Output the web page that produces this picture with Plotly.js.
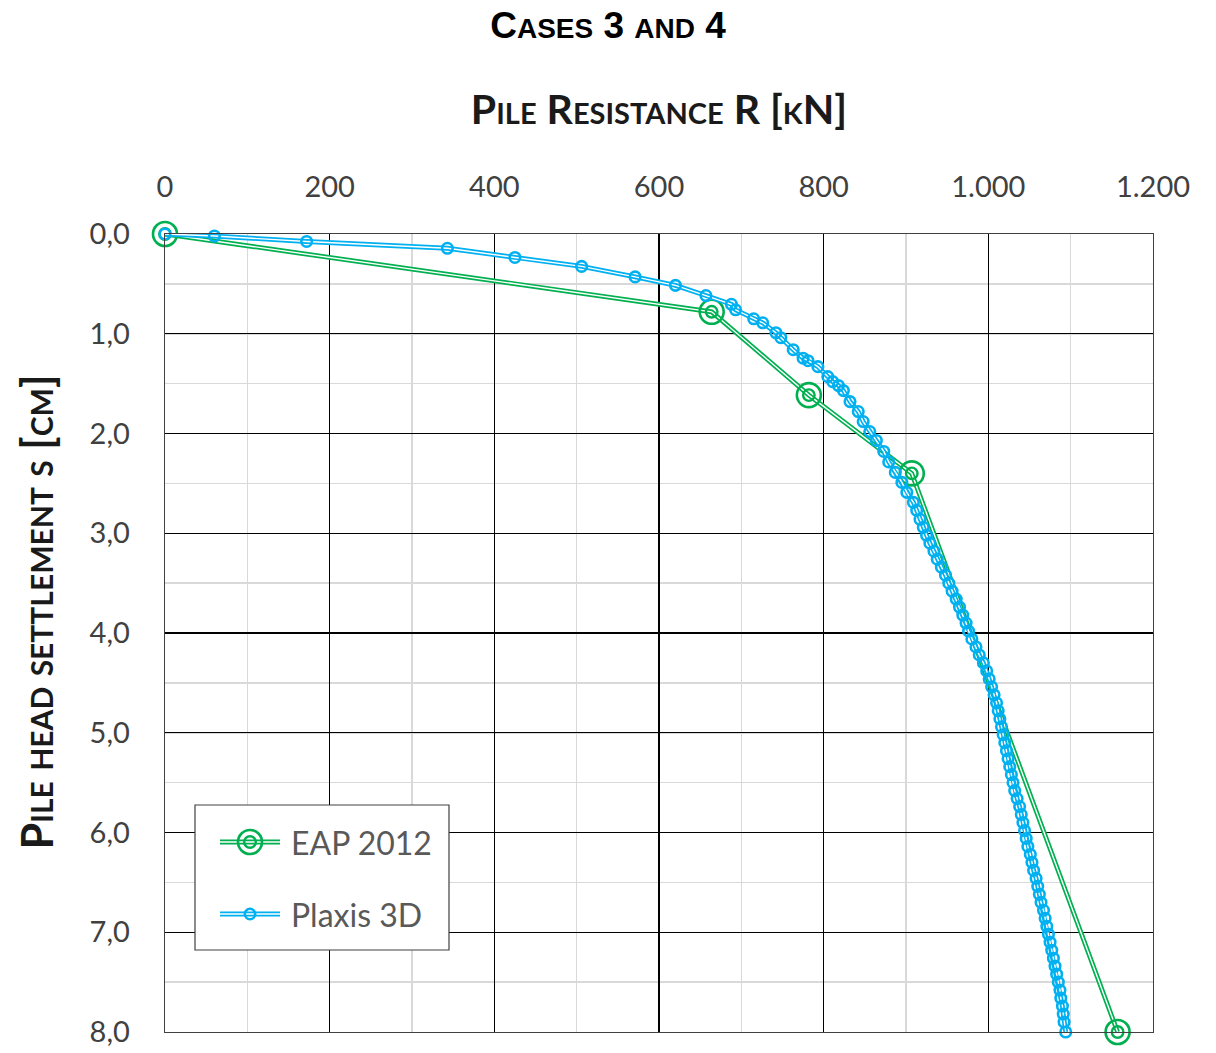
<!DOCTYPE html>
<html>
<head>
<meta charset="utf-8">
<script src="https://cdn.plot.ly/plotly-3.0.1.min.js"></script>
<style>
  html, body { margin: 0; padding: 0; background: #fff; }
  #chart { width: 1216px; height: 1053px; }
</style>
</head>
<body>
<div id="chart"></div>
<script>
// ---- Data ----
const eapResistance = [0, 664, 782, 907, 1157];
const eapSettlement = [0.0, 0.78, 1.615, 2.40, 8.0];

const plaxisResistance = [
  0, 60, 172, 343, 425, 506, 571, 620, 657, 688, 693, 715, 726, 742, 748, 763, 775, 781, 793,
  805, 811, 818, 824, 832, 842, 848, 856, 864, 873, 879, 887, 895, 901, 909, 913, 917, 921,
  925, 929, 934, 938, 943, 948, 952, 956, 961, 965, 969, 973, 976, 980, 985, 989, 994, 998,
  1001, 1004, 1007, 1010, 1012, 1014, 1016, 1018, 1020, 1022, 1024, 1026, 1028, 1030, 1032,
  1035, 1038, 1040, 1042, 1044, 1046, 1048, 1051, 1053, 1055, 1058, 1060, 1062, 1064, 1067,
  1069, 1071, 1073, 1075, 1077, 1079, 1081, 1083, 1085, 1087, 1088, 1090, 1091, 1092, 1094
];
const plaxisSettlement = [
  0.0, 0.02, 0.075, 0.143, 0.235, 0.325, 0.43, 0.515, 0.617, 0.705, 0.76, 0.85, 0.89, 0.99, 1.04, 1.16, 1.245, 1.27, 1.33,
  1.43, 1.48, 1.52, 1.57, 1.68, 1.78, 1.88, 1.98, 2.07, 2.18, 2.285, 2.39, 2.49, 2.59, 2.69, 2.77, 2.86, 2.94,
  3.02, 3.10, 3.18, 3.26, 3.34, 3.42, 3.50, 3.58, 3.66, 3.74, 3.82, 3.90, 3.98, 4.06, 4.14, 4.22, 4.30, 4.38,
  4.46, 4.54, 4.62, 4.70, 4.78, 4.86, 4.94, 5.02, 5.10, 5.18, 5.26, 5.34, 5.42, 5.50, 5.58,
  5.66, 5.74, 5.82, 5.90, 5.98, 6.06, 6.14, 6.22, 6.30, 6.38, 6.46, 6.54, 6.62, 6.70, 6.78,
  6.86, 6.94, 7.02, 7.10, 7.18, 7.26, 7.34, 7.42, 7.50, 7.58, 7.66, 7.74, 7.82, 7.90, 8.0
];

const seriesNames = ['EAP 2012', 'Plaxis 3D'];
const xTickValues = [0, 200, 400, 600, 800, 1000, 1200];
const yTickValues = [0, 1, 2, 3, 4, 5, 6, 7, 8];

// ---- Styles ----
const GREEN = '#00B050';
const BLUE = '#00B0F0';
const FONT = 'Lato, "Open Sans", sans-serif';

function doubleLine(x, y, color, name) {
  return [
    { x: x, y: y, type: 'scatter', mode: 'lines', name: name, showlegend: false, cliponaxis: false,
      line: { color: color, width: 4.8 }, hoverinfo: 'skip' },
    { x: x, y: y, type: 'scatter', mode: 'lines', name: name, showlegend: false, cliponaxis: false,
      line: { color: '#ffffff', width: 1.4 }, hoverinfo: 'skip' }
  ];
}

const traces = [
  ...doubleLine(eapResistance, eapSettlement, GREEN, seriesNames[0]),
  { x: eapResistance, y: eapSettlement, type: 'scatter', mode: 'markers', name: seriesNames[0], showlegend: false, cliponaxis: false,
    marker: { symbol: 'circle-open', size: 24, color: GREEN, line: { color: GREEN, width: 2.6 } } },
  { x: eapResistance, y: eapSettlement, type: 'scatter', mode: 'markers', name: seriesNames[0], showlegend: false, cliponaxis: false,
    marker: { symbol: 'circle-open', size: 11.5, color: GREEN, line: { color: GREEN, width: 2.4 } } },
  ...doubleLine(plaxisResistance, plaxisSettlement, BLUE, seriesNames[1]),
  { x: plaxisResistance, y: plaxisSettlement, type: 'scatter', mode: 'markers', name: seriesNames[1], showlegend: false, cliponaxis: false,
    marker: { symbol: 'circle-open', size: 10.5, color: BLUE, line: { color: BLUE, width: 2.6 } } }
];

// ---- Manual legend (paper coordinates) ----
const L = 165, R = 1153, T = 234, B = 1032;
const px = v => (v - L) / (R - L);
const py = v => (B - v) / (B - T);

const shapes = [
  { type: 'rect', xref: 'paper', yref: 'paper', x0: px(195), x1: px(449), y0: py(950), y1: py(805),
    line: { color: '#404040', width: 1.2 }, fillcolor: '#ffffff', layer: 'above' }
];
function legendSymbol(cy, color, rings) {
  const out = [];
  out.push({ type: 'line', xref: 'paper', yref: 'paper', layer: 'above',
    xsizemode: 'pixel', xanchor: px(250), x0: -30, x1: 30,
    ysizemode: 'pixel', yanchor: py(cy), y0: 0, y1: 0,
    line: { color: color, width: 4.8 } });
  out.push({ type: 'line', xref: 'paper', yref: 'paper', layer: 'above',
    xsizemode: 'pixel', xanchor: px(250), x0: -30, x1: 30,
    ysizemode: 'pixel', yanchor: py(cy), y0: 0, y1: 0,
    line: { color: '#ffffff', width: 1.4 } });
  rings.forEach(r => {
    out.push({ type: 'circle', xref: 'paper', yref: 'paper', layer: 'above',
      xsizemode: 'pixel', xanchor: px(250), x0: -r[0], x1: r[0],
      ysizemode: 'pixel', yanchor: py(cy), y0: -r[0], y1: r[0],
      line: { color: color, width: r[1] } });
  });
  return out;
}
shapes.push(...legendSymbol(842, GREEN, [[12, 2.6], [5.8, 2.4]]));
shapes.push(...legendSymbol(914, BLUE, [[5.2, 2.6]]));

const annotations = [
  { xref: 'paper', yref: 'paper', x: px(289), y: py(842), xanchor: 'left', yanchor: 'middle',
    text: seriesNames[0], showarrow: false, font: { family: FONT, size: 32, color: '#595959' } },
  { xref: 'paper', yref: 'paper', x: px(289), y: py(914), xanchor: 'left', yanchor: 'middle',
    text: seriesNames[1], showarrow: false, font: { family: FONT, size: 32, color: '#595959' } }
];

const SC = s => '<span style="font-size:28px">' + s + '</span>';

const layout = {
  width: 1216, height: 1053,
  margin: { l: L, r: 1216 - R, t: T, b: 1053 - B, pad: 0 },
  paper_bgcolor: '#ffffff', plot_bgcolor: '#ffffff',
  separators: ',.',
  showlegend: false,
  title: {
    text: 'C' + SC('ASES') + ' 3 ' + SC('AND') + ' 4',
    x: 0.5, xref: 'container', xanchor: 'center',
    y: 1 - 25 / 1053, yref: 'container', yanchor: 'middle',
    font: { family: '"Liberation Sans", Arial, sans-serif', size: 37, weight: 'bold', color: '#000000' }
  },
  xaxis: {
    side: 'top', range: [0, 1200], tickvals: xTickValues, tickformat: ',.0f',
    showgrid: true, gridcolor: '#000000', gridwidth: 1.4,
    minor: { dtick: 100, showgrid: true, gridcolor: '#d9d9d9', gridwidth: 1.5, ticks: '' },
    zeroline: false, showline: true, mirror: true, linecolor: '#404040', linewidth: 1.4,
    ticks: '', ticklabelstandoff: 24,
    tickfont: { family: FONT, size: 29, color: '#404040' },
    title: { text: 'Pile Resistance R [kN]', standoff: 30,
      font: { family: FONT, size: 41, weight: 'bold', variant: 'small-caps', color: '#1a1a1a' } },
    fixedrange: true
  },
  yaxis: {
    range: [8, 0], tickvals: yTickValues, tickformat: '.1f',
    showgrid: true, gridcolor: '#000000', gridwidth: 1.4,
    minor: { dtick: 0.5, showgrid: true, gridcolor: '#d9d9d9', gridwidth: 1.5, ticks: '' },
    zeroline: false, showline: true, mirror: true, linecolor: '#404040', linewidth: 1.4,
    ticks: '', ticklabelstandoff: 28,
    tickfont: { family: FONT, size: 29, color: '#404040' },
    title: { text: '&nbsp;&nbsp;&nbsp;&nbsp;Pile head settlement s [cm]', standoff: 22,
      font: { family: FONT, size: 43, weight: 'bold', variant: 'small-caps', color: '#1a1a1a' } },
    fixedrange: true
  },
  shapes: shapes,
  annotations: annotations
};

Plotly.newPlot('chart', traces, layout, { displayModeBar: false, staticPlot: true });
</script>
</body>
</html>
